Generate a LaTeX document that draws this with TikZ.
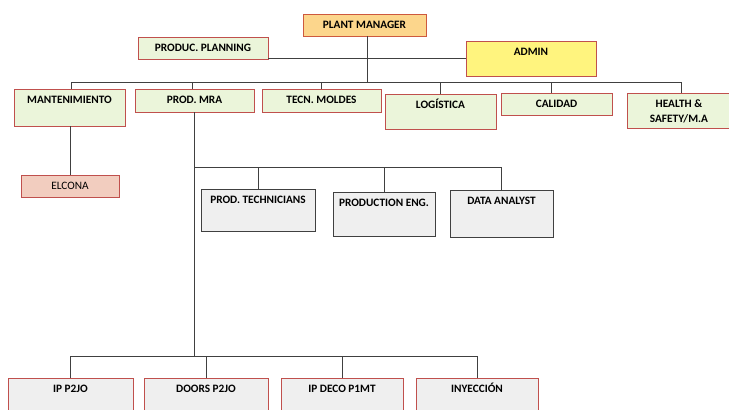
\documentclass[tikz,border=0pt]{standalone}
\usepackage{fontspec}
\setmainfont{Carlito}
\usetikzlibrary{calc}
\definecolor{bred}{HTML}{C0504D}
\definecolor{gfill}{HTML}{EBF5DA}
\definecolor{ofill}{HTML}{FCD68C}
\definecolor{yfill}{HTML}{FFF47E}
\definecolor{sfill}{HTML}{F2CDBF}
\definecolor{grfill}{HTML}{EFEFEF}
\definecolor{gline}{HTML}{404040}
\newcommand\orgbox[7]{%
  \node[#6, minimum width={#4-#2}, minimum height={#5-#3},
    label={[lbl, anchor=base, yshift=-14.5pt]north:#7}]
    (#1) at ({(#2+#4)/2},{(#3+#5)/2}) {};}
\begin{document}
\begin{tikzpicture}[x=1pt, y=-1pt,
  base/.style={inner sep=0pt, outer sep=0pt, line width=0.9pt},
  greenbox/.style={base, draw=bred, fill=gfill},
  orangebox/.style={base, draw=bred!80!orange, fill=ofill},
  yellowbox/.style={base, draw=bred, fill=yfill},
  salmonbox/.style={base, draw=bred, fill=sfill},
  graybox/.style={base, draw=gline, fill=grfill},
  redgraybox/.style={base, draw=bred, fill=grfill},
  lbl/.style={inner sep=0pt, font=\fontsize{11.3}{15}\selectfont\bfseries, text=black},
  lblr/.style={inner sep=0pt, font=\fontsize{11.3}{15}\selectfont, text=black},
  conn/.style={draw=gline, line width=0.9pt}]
\useasboundingbox (0,0) rectangle (729,410);
\fill[white] (0,0) rectangle (729,410);

\coordinate (bus) at (367,82);
\coordinate (mrabus) at (194,167);
\coordinate (botbus) at (194,356);

\orgbox{pm}{303}{14}{426}{36}{orangebox}{PLANT MANAGER}
\orgbox{pp}{138}{37}{268}{59}{greenbox}{PRODUC. PLANNING}
\orgbox{admin}{466}{41}{596}{76}{yellowbox}{ADMIN}
\orgbox{mant}{14}{89}{125}{126}{greenbox}{MANTENIMIENTO}
\orgbox{mra}{135}{89}{254}{112}{greenbox}{PROD. MRA}
\orgbox{tecn}{262}{89}{381}{112}{greenbox}{TECN. MOLDES}
\orgbox{log}{385}{94}{496}{129}{greenbox}{LOGÍSTICA}
\orgbox{cal}{501}{93}{612}{115}{greenbox}{CALIDAD}
\orgbox{hs}{627}{93}{731}{128}{greenbox}{\begin{tabular}[t]{@{}c@{}}HEALTH \&\\SAFETY/M.A\end{tabular}}
\node[salmonbox, minimum width=98, minimum height=22,
  label={[lblr, anchor=base, yshift=-14pt]north:ELCONA}] (elc) at (70,186) {};
\orgbox{pt}{201}{189}{315}{231}{graybox}{PROD. TECHNICIANS}
\orgbox{pe}{333}{192}{435}{236}{graybox}{PRODUCTION ENG.}
\orgbox{da}{450}{190}{553}{237}{graybox}{DATA ANALYST}
\orgbox{ip}{8}{378}{133}{420}{redgraybox}{IP P2JO}
\orgbox{doors}{144}{378}{268}{420}{redgraybox}{DOORS P2JO}
\orgbox{deco}{281}{378}{403}{420}{redgraybox}{IP DECO P1MT}
\orgbox{iny}{416}{378}{538}{420}{redgraybox}{INYECCIÓN}

% top level
\draw[conn] (pm.south -| bus) -- (bus);
\draw[conn] (admin.west) -- (admin.west -| pp.east);
\draw[conn] ($(mant.north)+(1.5,0)$) -- ($(mant.north |- bus)+(1.5,0)$) -- ($(hs.north |- bus)+(2,0)$) -- ($(hs.north)+(2,0)$);
\draw[conn] ($(mra.north)+(-2.5,0)$) -- ($(mra.north |- bus)+(-2.5,0)$);
\draw[conn] (tecn.north) -- (tecn.north |- bus);
\draw[conn] (log.north) -- (log.north |- bus);
\draw[conn] ($(cal.north)+(-5.5,0)$) -- ($(cal.north |- bus)+(-5.5,0)$);
% mantenimiento to elcona
\draw[conn] (mant.south -| elc.north) -- (elc.north);
% prod mra
\draw[conn] (mra.south -| botbus) -- (botbus);
\draw[conn] (mrabus) -- (mrabus -| da.north) -- (da.north);
\draw[conn] (pt.north) -- (pt.north |- mrabus);
\draw[conn] (pe.north) -- (pe.north |- mrabus);
\draw[conn] (ip.north) -- (ip.north |- botbus) -- (iny.north |- botbus) -- (iny.north);
\draw[conn] (doors.north) -- (doors.north |- botbus);
\draw[conn] (deco.north) -- (deco.north |- botbus);
\end{tikzpicture}
\end{document}
